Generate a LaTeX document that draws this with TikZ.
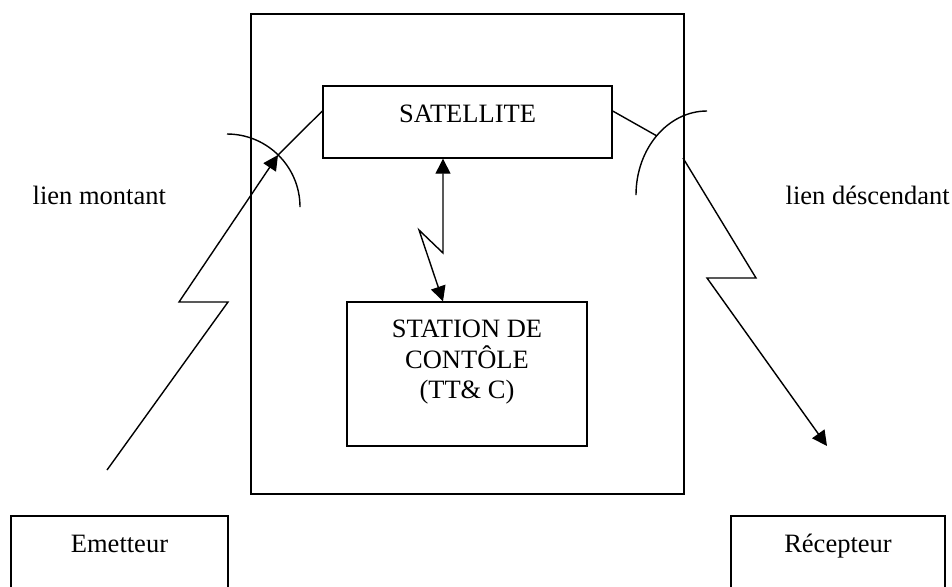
\documentclass[tikz,border=0pt]{standalone}
\usepackage{fontspec}
\setmainfont{Liberation Serif}
\usepackage{tikz}
\usetikzlibrary{arrows.meta}

\begin{document}
\begin{tikzpicture}[x=0.5pt, y=-0.5pt, line width=0.7pt,
    every node/.style={font=\fontsize{13.25}{15.25}\selectfont},
    box/.style={draw, line width=0.7pt, inner sep=0pt},
    link/.style={-{Triangle[length=7.5pt, width=7.5pt]}}]
  \path[use as bounding box, clip] (0,0) rectangle (952,586);

  % Outer frame
  \node[box, minimum width=216.5pt, minimum height=240pt] (frame) at (467.5,254) {};

  % Satellite box
  \node[box, minimum width=144.5pt, text height=18pt, text depth=18pt] (sat)
    at (467.5,122) {SATELLITE};

  % Control station
  \node[box, minimum width=120pt, minimum height=72pt] (station) at (467,374) {};
  \node[anchor=north, align=center, inner sep=0pt] (stationtxt)
    at ([yshift=-9pt]station.north) {STATION DE\\CONTÔLE\\(TT\& C)};

  % Ground boxes
  \node[box, minimum width=108.5pt, text height=18pt, text depth=29pt] (emit)
    at (119.5,563) {Emetteur};
  \node[box, minimum width=107pt, text height=18pt, text depth=29pt] (recv)
    at (838,563) {Récepteur};

  % Link labels
  \node[anchor=base west, inner sep=0pt] (uplbl) at (32,204) {lien montant};
  \node[anchor=base west, inner sep=0pt] (dnlbl) at (785,204) {lien déscendant};

  % Antennas
  \draw (227,134) arc[start angle=90, end angle=0, radius=36.5pt];
  \draw (707,111) arc[start angle=90, end angle=180, x radius=35.5pt, y radius=42pt];
  \coordinate (antL) at (278,155);
  \coordinate (antR) at (657,136);
  \draw (antL) -- ([yshift=5.5pt]sat.west);
  \draw (antR) -- ([yshift=5.5pt]sat.east);

  % Uplink
  \coordinate (up1) at (107,470);
  \coordinate (up2) at (228,302);
  \coordinate (up3) at (179,302);
  \draw[link] (up1) -- (up2) -- (up3) -- (antL);

  % Downlink
  \coordinate (dn1) at (683,158);
  \coordinate (dn2) at (756,278);
  \coordinate (dn3) at (707,278);
  \coordinate (dn4) at (827,446);
  \draw[link] (dn1) -- (dn2) -- (dn3) -- (dn4);

  % TT&C link
  \coordinate (mz1) at (443,253);
  \coordinate (mz2) at (419,230);
  \draw[{Triangle[length=7.5pt, width=7.5pt]}-{Triangle[length=7.5pt, width=7.5pt]}]
    (mz1 |- sat.south) -- (mz1) -- (mz2) -- (mz1 |- station.north);
\end{tikzpicture}
\end{document}
